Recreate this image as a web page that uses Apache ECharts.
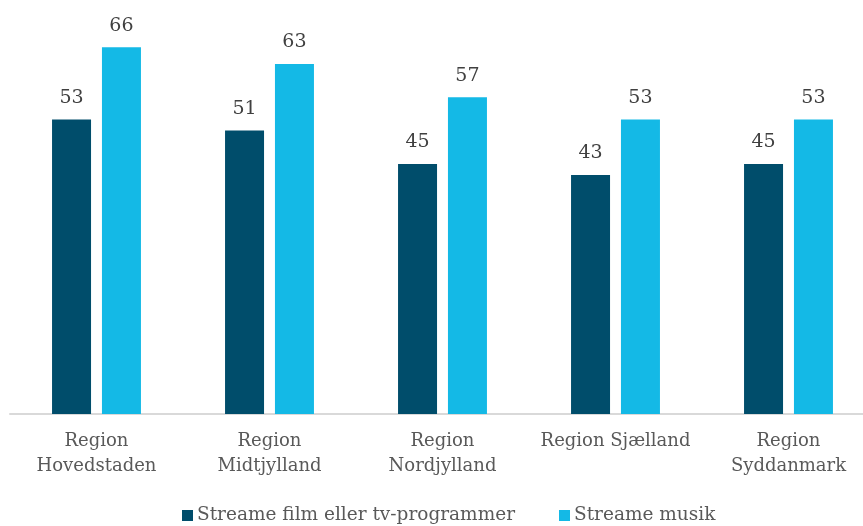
<!DOCTYPE html>
<html><head><meta charset="utf-8">
<script src="https://cdn.jsdelivr.net/npm/echarts@6/dist/echarts.min.js"></script>
<style>html,body{margin:0;padding:0;background:#fff}#c{width:863px;height:526px}</style>
</head><body><div id="c"></div>
<script>
const categories = ['Region\nHovedstaden','Region\nMidtjylland','Region\nNordjylland','Region Sjælland','Region\nSyddanmark'];
const seriesNames = ['Streame film eller tv-programmer','Streame musik'];
const filmTv = [53, 51, 45, 43, 45];
const musik = [66, 63, 57, 53, 53];

const font = 'Georgia, "DejaVu Serif", serif';
const chart = echarts.init(document.getElementById('c'));
chart.setOption({
  animation: false,
  legend: {
    top: 501, left: 177,
    itemWidth: 11, itemHeight: 11, itemGap: 44,
    icon: 'rect',
    textStyle: { fontFamily: font, fontSize: 18.5, color: '#595959', padding: [0,0,0,-1] },
    data: seriesNames
  },
  grid: { left: 10, right: -12, top: 25, bottom: 112, containLabel: false, outerBoundsMode: 'none' },
  xAxis: {
    type: 'category', data: categories,
    axisLine: { lineStyle: { color: '#d9d9d9', width: 2 } },
    axisTick: { show: false },
    axisLabel: { fontFamily: font, fontSize: 18, color: '#595959', lineHeight: 25, margin: 15, interval: 0 }
  },
  yAxis: { type: 'value', min: 0, max: 70, show: false, splitLine: { show: false } },
  series: [
    { name: seriesNames[0], type: 'bar', data: filmTv, barWidth: 39, barGap: '28%',
      itemStyle: { color: '#004d6b' },
      label: { show: true, position: 'top', distance: 12, fontFamily: font, fontSize: 19, color: '#404040' } },
    { name: seriesNames[1], type: 'bar', data: musik, barWidth: 39,
      itemStyle: { color: '#14b9e6' },
      label: { show: true, position: 'top', distance: 12, fontFamily: font, fontSize: 19, color: '#404040' } }
  ]
});
</script></body></html>
